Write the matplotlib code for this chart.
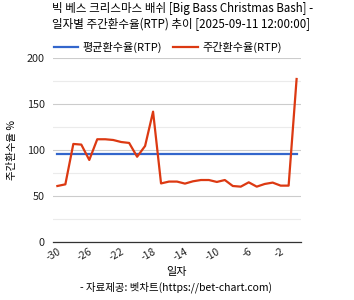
import matplotlib
matplotlib.use('Agg')
import matplotlib.pyplot as plt

plt.rcParams['font.family'] = ['Noto Sans CJK KR', 'DejaVu Sans']

# ── data ──────────────────────────────────────────────────────────────────────
days = list(range(-30, 1))
weekly_rtp = [61.2, 63.0, 106.9, 106.2, 89.5, 112.0, 112.0, 111.2, 109.0, 108.0,
              93.0, 104.7, 142.0, 64.0, 66.0, 66.0, 63.8, 66.3, 67.7, 67.7,
              65.6, 67.7, 61.2, 60.5, 65.2, 60.5, 63.4, 64.9, 61.6, 61.6, 177.5]
avg_rtp = [96.4] * len(days)
xticks = list(range(-30, 0, 4))
yticks = [0, 50, 100, 150, 200]

title = '빅 베스 크리스마스 배쉬 [Big Bass Christmas Bash] -\n일자별 주간환수율(RTP) 추이 [2025-09-11 12:00:00]'

# ── plot ──────────────────────────────────────────────────────────────────────
fig = plt.figure(figsize=(3.54, 3.0), dpi=100)
ax = fig.add_axes([0.1497, 0.1923, 0.6994, 0.6134])

ax.plot(days, avg_rtp, color='#3366cc', linewidth=1.6, label='평균환수율(RTP)')
ax.plot(days, weekly_rtp, color='#dc3912', linewidth=1.6, label='주간환수율(RTP)')

ax.set_xlim(-30.55, 0.5)
ax.set_ylim(0, 200)
ax.set_yticks(yticks)
ax.set_yticks([25, 75, 125, 175], minor=True)
ax.set_xticks(xticks)
ax.set_xticklabels([str(t) for t in xticks], rotation=30, ha='right',
                   rotation_mode='anchor', fontsize=7.5, color='#222222')
ax.tick_params(axis='y', labelsize=7.8, colors='#222222', length=0, pad=6)
ax.tick_params(axis='y', which='minor', length=0)
ax.tick_params(axis='x', length=0, pad=3)
ax.grid(True, axis='y', which='major', color='#cccccc', linewidth=0.8)
ax.grid(True, axis='y', which='minor', color='#ebebeb', linewidth=0.8)
ax.set_axisbelow(True)
for s in ['top', 'right', 'left']:
    ax.spines[s].set_visible(False)
ax.spines['bottom'].set_color('#333333')
ax.spines['bottom'].set_linewidth(0.9)

ax.set_ylabel('주간환수율 %', fontsize=7.5, labelpad=7)
ax.set_xlabel('일자', fontsize=8, labelpad=3)

fig.text(0.147, 0.993, title, fontsize=8.3, va='top', ha='left', linespacing=1.3)
ax.legend(loc='lower left', bbox_to_anchor=(-0.02, 1.0), ncol=2, frameon=False,
          fontsize=8, handlelength=2.2, handletextpad=0.4, columnspacing=1.0,
          borderaxespad=0.1)
fig.text(0.497, 0.022, '- 자료제공: 벳차트(https://bet-chart.com)', fontsize=7.5,
         ha='center', va='bottom')

fig.savefig('out.png', dpi=100)
